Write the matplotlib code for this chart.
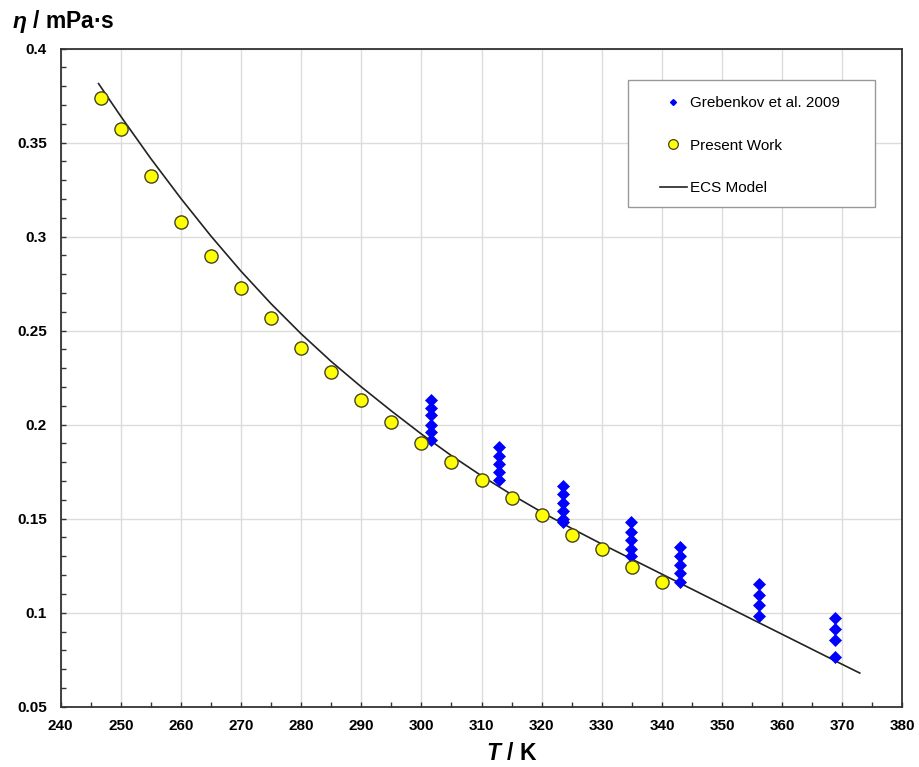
import numpy as np
import matplotlib
matplotlib.use("Agg")
import matplotlib.pyplot as plt
from matplotlib.lines import Line2D
from matplotlib.patches import Rectangle
from matplotlib.ticker import MultipleLocator

plt.rcParams['font.family'] = ['Liberation Sans', 'DejaVu Sans']
plt.rcParams['mathtext.fontset'] = 'custom'
plt.rcParams['mathtext.it'] = 'Liberation Sans:italic:bold'
plt.rcParams['mathtext.rm'] = 'Liberation Sans:bold'

# ── Present work (yellow circles) ──
T_present = [246.7, 250, 255, 260, 265, 270, 275, 280, 285, 290,
             295, 300, 305, 310, 315, 320, 325, 330, 335, 340]
eta_present = [0.374, 0.357, 0.332, 0.308, 0.2895, 0.2725, 0.2565, 0.241, 0.228, 0.2132,
               0.2015, 0.1903, 0.1802, 0.1705, 0.161, 0.152, 0.1412, 0.1337, 0.1243, 0.1163]

# ── Grebenkov et al. 2009 (blue diamonds) ──
T_greb = [301.6] * 6 + [312.9] * 5 + [323.6] * 6 + [334.8] * 5 + [343.0] * 5 + [356.1] * 4 + [368.7] * 4
eta_greb = [0.213, 0.209, 0.205, 0.200, 0.196, 0.192,
            0.188, 0.1834, 0.179, 0.1748, 0.1705,
            0.1673, 0.163, 0.1585, 0.154, 0.150, 0.148,
            0.148, 0.143, 0.1385, 0.134, 0.130,
            0.135, 0.130, 0.1256, 0.121, 0.1165,
            0.115, 0.1095, 0.104, 0.0985,
            0.097, 0.0915, 0.0855, 0.0766]

# ── ECS model (line) ──
T_ecs = [246.3, 250, 255, 260, 265, 270, 275, 280, 285, 290, 295, 300, 305, 310,
         315, 320, 325, 330, 335, 340, 345, 350, 355, 360, 365, 370, 372.9]
eta_ecs = [0.3814, 0.364, 0.3415, 0.3203, 0.3003, 0.2816, 0.2643, 0.2483, 0.2336, 0.2201,
           0.2073, 0.195, 0.1835, 0.1728, 0.1628, 0.1535, 0.1448, 0.1365, 0.1285, 0.1205,
           0.1125, 0.1045, 0.0965, 0.0885, 0.0805, 0.0725, 0.0679]

fig = plt.figure(figsize=(9.19, 7.67), dpi=100)
ax = fig.add_axes([0.066, 0.0786, 0.916, 0.858])

ax.plot(T_ecs, eta_ecs, color='#222222', lw=1.2, zorder=3)
ax.plot(T_greb, eta_greb, 'D', color='#0000ff', ms=6.3, mec='#0000ff', mew=0.5, zorder=4)
ax.plot(T_present, eta_present, 'o', mfc='#ffff00', mec='#444422', ms=9.5, mew=1.0, zorder=5)

ax.set_xlim(240, 380)
ax.set_ylim(0.05, 0.4)
ax.xaxis.set_major_locator(MultipleLocator(10))
ax.xaxis.set_minor_locator(MultipleLocator(5))
ax.yaxis.set_major_locator(MultipleLocator(0.05))
ax.yaxis.set_minor_locator(MultipleLocator(0.01))
ax.set_yticks(np.arange(0.05, 0.401, 0.05))
ax.set_yticklabels(['0.05', '0.1', '0.15', '0.2', '0.25', '0.3', '0.35', '0.4'])

ax.grid(True, which='major', color='#dcdcdc', lw=1.0, zorder=0)
ax.set_axisbelow(True)
ax.tick_params(which='both', direction='in', length=3.5, width=1.0, color='#333333',
               top=False, right=False)
ax.tick_params(axis='y', which='major', pad=10, labelsize=11)
ax.tick_params(axis='x', which='major', pad=9, labelsize=11)
for lab in ax.get_xticklabels() + ax.get_yticklabels():
    lab.set_fontweight('bold')
for sp in ax.spines.values():
    sp.set_color('#333333')
    sp.set_linewidth(1.3)

fig.text(0.013, 0.972, r'$\eta$ / mPa·s', fontsize=16.5, fontweight='bold', ha='left', va='center')
fig.text(0.557, 0.018, r'$T$ / K', fontsize=16.5, fontweight='bold', ha='center', va='center')

# ── Legend box ──
ax.add_patch(Rectangle((0.6738, 0.7594), 0.2933, 0.193, transform=ax.transAxes,
                       facecolor='white', edgecolor='#999999', lw=1.0, zorder=6))
handles = [
    Line2D([], [], ls='none', marker='D', color='#0000ff', ms=3),
    Line2D([], [], ls='none', marker='o', mfc='#ffff00', mec='#444422', ms=7, mew=0.9),
    Line2D([], [], color='#222222', lw=1.2),
]
leg = ax.legend(handles, ['Grebenkov et al. 2009', 'Present Work', 'ECS Model'],
                loc='upper left', bbox_to_anchor=(0.7117, 0.9275), frameon=False,
                fontsize=11, borderpad=0, borderaxespad=0, labelspacing=1.85,
                handlelength=1.75, handletextpad=0.2)
leg.set_zorder(7)

fig.savefig('out.png', dpi=100)
